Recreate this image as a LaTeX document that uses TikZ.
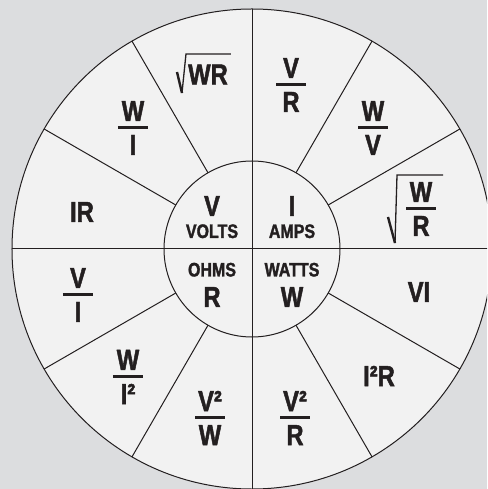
\documentclass[tikz,border=0pt]{standalone}
\usepackage{fontspec}
\setmainfont{Liberation Sans}[FakeStretch=0.82,BoldFeatures={FakeBold=1.6}]
\usetikzlibrary{positioning}
\definecolor{pagebg}{HTML}{DCDDDF}
\definecolor{wheelbg}{HTML}{F2F2F2}
\definecolor{ink}{HTML}{231F20}
% stacked fraction with a heavy bar
\newcommand\fr[2]{\vbox{\offinterlineskip\halign{\hfil##\hfil\cr#1\cr
  \noalign{\kern5pt}\vrule width30pt height3pt depth0pt\cr
  \noalign{\kern6pt}#2\cr}}}
\tikzset{
  rim/.style={draw=ink,line width=1pt},
  big/.style={inner sep=0pt,text=ink,font=\fontsize{29}{34}\selectfont\bfseries},
  unit/.style={inner sep=0pt,text=ink,font=\fontsize{19.5}{22}\selectfont\bfseries},
  radstem/.style={draw=ink,line width=2.4pt},
  radbar/.style={draw=ink,line width=1.3pt,line join=miter},
}
\begin{document}
\begin{tikzpicture}[x=1pt,y=1pt]
  \useasboundingbox (-252,-240) rectangle (235,249);
  \fill[pagebg] (-252,-240) rectangle (235,249);
  \clip (-252,-240) rectangle (235,249);
  % the wheel
  \filldraw[rim,fill=wheelbg] (0,0) circle (240);
  \draw[rim] (-240,0) -- (240,0);
  \draw[rim] (0,-240) -- (0,240);
  \foreach \a in {30,60,120,150,210,240,300,330}
    \draw[rim] (\a:88) -- (\a:240);
  \draw[rim] (0,0) circle (88);
  % hub: the four quantities
  \node[big] (volt) at (-40,43) {V};
  \node[unit,below=8pt of volt] (volts) {VOLTS};
  \node[big] (amp) at (40,43) {I};
  \node[unit,below=8pt of amp] (amps) {AMPS};
  \node[big] (ohm) at (-40,-48) {R};
  \node[unit,above=10pt of ohm] (ohms) {OHMS};
  \node[big] (watt) at (40,-48) {W};
  \node[unit,above=10pt of watt] (watts) {WATTS};
  % outer ring: the formulas
  \node[big] (vr) at (39,164) {\fr{V}{R}};
  \node[big] (wv) at (121,121) {\fr{W}{V}};
  \node[big] (wr2) at (169,40) {\fr{W}{R}};
  \node[big] (vi) at (167,-43) {VI};
  \node[big] (iir) at (127,-127) {I²R};
  \node[big] (vvr) at (43,-169) {\fr{V²}{R}};
  \node[big] (vvw) at (-42,-169) {\fr{V²}{W}};
  \node[big] (wii) at (-124,-128) {\fr{W}{I²}};
  \node[big] (vovi) at (-174,-46) {\fr{V}{I}};
  \node[big] (ir) at (-170,37) {IR};
  \node[big] (wi) at (-119,121) {\fr{W}{I}};
  \node[big] (wr) at (-44,174.5) {WR};
  % root signs
  \draw[radstem] ([shift={(-11,2.5)}]wr.west) -- ([shift={(-6,-18.5)}]wr.west);
  \draw[radbar] ([shift={(-6,-18.5)}]wr.west) -- ([shift={(-2,20.5)}]wr.west)
    -- ([shift={(43,20.5)}]wr.west);
  \draw[radstem] ([shift={(-33,-8)}]wr2.center) -- ([shift={(-26,-34)}]wr2.center);
  \draw[radbar] ([shift={(-26,-34)}]wr2.center) -- ([shift={(-24,34)}]wr2.center)
    -- ([shift={(22,34)}]wr2.center);
\end{tikzpicture}
\end{document}
